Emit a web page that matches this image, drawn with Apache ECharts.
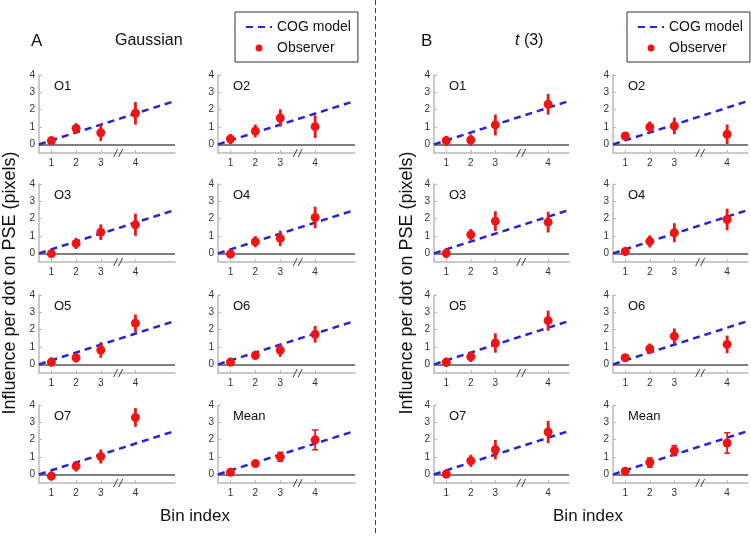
<!DOCTYPE html>
<html>
<head>
<meta charset="utf-8">
<script src="https://cdn.jsdelivr.net/npm/echarts@6/dist/echarts.min.js"></script>
<style>html,body{margin:0;padding:0;background:#fff}#c{width:751px;height:536px}</style>
</head>
<body>
<div id="c"></div>
<script>
// ---- data ----
const panelNames = ['O1', 'O2', 'O3', 'O4', 'O5', 'O6', 'O7', 'Mean'];
const binLabels = ['1', '2', '3', '4'];
const binPosGaussian = [1, 2, 3, 4.4];   // bin 4 sits after an axis break
const binPosT3 = [1, 2, 3, 5.15];
const breakPosGaussian = 3.7;
const breakPosT3 = 4.05;
const yTicks = [0, 1, 2, 3, 4];
const modelX = [0.5, 6];
const modelY = [0, 2.5];

const gaussianMean = [
  [0.21, 0.92, 0.67, 1.79],
  [0.31, 0.77, 1.52, 1.02],
  [-0.02, 0.57, 1.22, 1.65],
  [-0.04, 0.67, 0.86, 2.07],
  [0.13, 0.38, 0.83, 2.37],
  [0.13, 0.52, 0.81, 1.73],
  [-0.10, 0.47, 1.03, 3.28],
  [0.12, 0.62, 1.01, 1.99]
];
const gaussianErr = [
  [0.25, 0.30, 0.48, 0.65],
  [0.29, 0.37, 0.50, 0.65],
  [0.24, 0.32, 0.45, 0.64],
  [0.24, 0.32, 0.45, 0.62],
  [0.27, 0.28, 0.45, 0.50],
  [0.25, 0.26, 0.38, 0.48],
  [0.25, 0.31, 0.41, 0.54],
  [0.10, 0.10, 0.26, 0.57]
];
const t3Mean = [
  [0.21, 0.25, 1.12, 2.31],
  [0.48, 1.00, 1.06, 0.58],
  [0.00, 1.07, 1.86, 1.80],
  [0.11, 0.69, 1.19, 1.95],
  [0.12, 0.44, 1.23, 2.52],
  [0.38, 0.90, 1.62, 1.15],
  [0.02, 0.78, 1.42, 2.44],
  [0.18, 0.68, 1.37, 1.81]
];
const t3Err = [
  [0.28, 0.32, 0.60, 0.60],
  [0.22, 0.32, 0.48, 0.56],
  [0.28, 0.33, 0.57, 0.60],
  [0.26, 0.35, 0.55, 0.62],
  [0.27, 0.30, 0.56, 0.58],
  [0.22, 0.30, 0.45, 0.51],
  [0.25, 0.35, 0.56, 0.64],
  [0.10, 0.27, 0.29, 0.59]
];

// ---- layout ----
const FONT = "'Liberation Sans', Arial, Helvetica, sans-serif";
const colLefts = [39, 218, 434, 613];
const colWidths = [136, 137, 135, 135];
const rowTops = [75, 184, 295, 405];
const gridH = 78;
const RED = '#f01414';
const BLUE = '#2525d6';
const AXIS = '#b9b9b9';

const groups = [
  { bins: binPosGaussian, brk: breakPosGaussian, mean: gaussianMean, err: gaussianErr },
  { bins: binPosT3, brk: breakPosT3, mean: t3Mean, err: t3Err }
];

const grid = [], xAxis = [], yAxis = [], series = [], graphic = [];

groups.forEach((g, gi) => {
  panelNames.forEach((name, p) => {
    const idx = gi * 8 + p;
    const row = Math.floor(p / 2), col = gi * 2 + (p % 2);
    const left = colLefts[col], top = rowTops[row];
    grid.push({ left: left, top: top, width: colWidths[col], height: gridH });
    const bins = g.bins;
    xAxis.push({
      type: 'value', gridIndex: idx, min: 0.5, max: 6,
      axisLine: { show: true, onZero: false, lineStyle: { color: AXIS, width: 1.5 } },
      axisTick: { show: true, inside: true, length: 3, customValues: bins, lineStyle: { color: AXIS } },
      axisLabel: {
        customValues: bins, margin: 5, fontSize: 10, color: '#333', fontFamily: FONT,
        formatter: v => { const k = bins.findIndex(b => Math.abs(b - v) < 1e-6); return k >= 0 ? binLabels[k] : ''; }
      },
      splitLine: { show: false }
    });
    yAxis.push({
      type: 'value', gridIndex: idx, min: -0.5, max: 4,
      axisLine: { show: true, onZero: false, lineStyle: { color: AXIS, width: 1.5 } },
      axisTick: { show: true, inside: true, length: 3, customValues: yTicks, lineStyle: { color: AXIS } },
      axisLabel: { customValues: yTicks, margin: 4, fontSize: 10, color: '#333', fontFamily: FONT },
      splitLine: { show: false }
    });
    series.push({
      name: 'COG model', type: 'line', xAxisIndex: idx, yAxisIndex: idx,
      data: modelX.map((x, k) => [x, modelY[k]]),
      symbol: 'none', z: 3, silent: true,
      lineStyle: { color: BLUE, width: 2.5, type: [7, 5] },
      itemStyle: { color: BLUE },
      markLine: {
        silent: true, symbol: ['none', 'none'], label: { show: false },
        lineStyle: { color: '#555', width: 1.5, type: 'solid' },
        data: [{ yAxis: 0 }], z: 2
      }
    });
    const isMean = name === 'Mean';
    series.push({
      name: 'Observer error', type: 'custom', xAxisIndex: idx, yAxisIndex: idx, z: 4,
      data: bins.map((x, k) => [x, g.mean[p][k] - g.err[p][k], g.mean[p][k] + g.err[p][k]]),
      encode: { x: 0, y: [1, 2] },
      renderItem: (params, api) => {
        const lo = api.coord([api.value(0), api.value(1)]);
        const hi = api.coord([api.value(0), api.value(2)]);
        const children = [{
          type: 'line', shape: { x1: lo[0], y1: lo[1], x2: hi[0], y2: hi[1] },
          style: { stroke: RED, lineWidth: isMean ? 1.8 : 2.8 }
        }];
        if (isMean) {
          [lo, hi].forEach(pt => children.push({
            type: 'line', shape: { x1: pt[0] - 3, y1: pt[1], x2: pt[0] + 3, y2: pt[1] },
            style: { stroke: RED, lineWidth: 1.5 }
          }));
        }
        return { type: 'group', children: children };
      }
    });
    series.push({
      name: 'Observer', type: 'scatter', xAxisIndex: idx, yAxisIndex: idx, z: 5,
      data: bins.map((x, k) => [x, g.mean[p][k]]),
      symbol: 'circle', symbolSize: 9, itemStyle: { color: RED, opacity: 1 }
    });
    series.push({
      name: 'break', type: 'custom', xAxisIndex: idx, yAxisIndex: idx, z: 6, clip: false, silent: true,
      data: [[g.brk, -0.5]],
      renderItem: (params, api) => {
        const c = api.coord([api.value(0), api.value(1)]);
        const mk = dx => ({ type: 'line', shape: { x1: c[0] + dx - 2, y1: c[1] + 4, x2: c[0] + dx + 2, y2: c[1] - 4 }, style: { stroke: '#444', lineWidth: 1 } });
        return { type: 'group', children: [mk(-2.5), mk(2.5)] };
      }
    });
    graphic.push({
      type: 'text', left: left + 15, top: top + 5,
      style: { text: name, fontSize: 13, fontFamily: FONT, fill: '#111' }
    });
  });
});

// group labels
graphic.push(
  { type: 'text', left: 31, top: 33, style: { text: 'A', fontSize: 17, fontFamily: FONT, fill: '#111' } },
  { type: 'text', left: 115, top: 33, style: { text: 'Gaussian', fontSize: 16, fontFamily: FONT, fill: '#111' } },
  { type: 'text', left: 421, top: 33, style: { text: 'B', fontSize: 17, fontFamily: FONT, fill: '#111' } },
  { type: 'text', left: 515, top: 33, style: { text: '{i|t} (3)', fontSize: 16, fontFamily: FONT, fill: '#111',
      rich: { i: { fontStyle: 'italic', fontSize: 16, fontFamily: FONT, fill: '#111' } } } },
  { type: 'text', x: 10, y: 283, rotation: Math.PI / 2,
    style: { text: 'Influence per dot on PSE (pixels)', fontSize: 18, fontFamily: FONT, fill: '#111', align: 'center', verticalAlign: 'middle' } },
  { type: 'text', x: 407, y: 283, rotation: Math.PI / 2,
    style: { text: 'Influence per dot on PSE (pixels)', fontSize: 18, fontFamily: FONT, fill: '#111', align: 'center', verticalAlign: 'middle' } },
  { type: 'text', x: 195, y: 516, style: { text: 'Bin index', fontSize: 17, fontFamily: FONT, fill: '#111', align: 'center', verticalAlign: 'middle' } },
  { type: 'text', x: 588, y: 516, style: { text: 'Bin index', fontSize: 17, fontFamily: FONT, fill: '#111', align: 'center', verticalAlign: 'middle' } },
  { type: 'line', shape: { x1: 375.5, y1: 0, x2: 375.5, y2: 536 }, style: { stroke: '#444', lineWidth: 1, lineDash: [5, 3] } }
);

const legendBase = {
  data: [
    { name: 'COG model', itemStyle: { opacity: 0 } },
    { name: 'Observer', itemStyle: { opacity: 1 } }
  ],
  orient: 'vertical', top: 12,
  padding: [8, 7, 7, 10], itemGap: 7, itemWidth: 26, itemHeight: 7,
  borderColor: '#333', borderWidth: 1, backgroundColor: '#fff',
  textStyle: { fontSize: 14, fontFamily: FONT, color: '#111' }, selectedMode: false
};

const chart = echarts.init(document.getElementById('c'), null, { renderer: 'canvas' });
chart.setOption({
  backgroundColor: '#fff',
  animation: false,
  legend: [Object.assign({ left: 235 }, legendBase), Object.assign({ left: 627 }, legendBase)],
  grid: grid, xAxis: xAxis, yAxis: yAxis, series: series, graphic: graphic
});
</script>
</body>
</html>
